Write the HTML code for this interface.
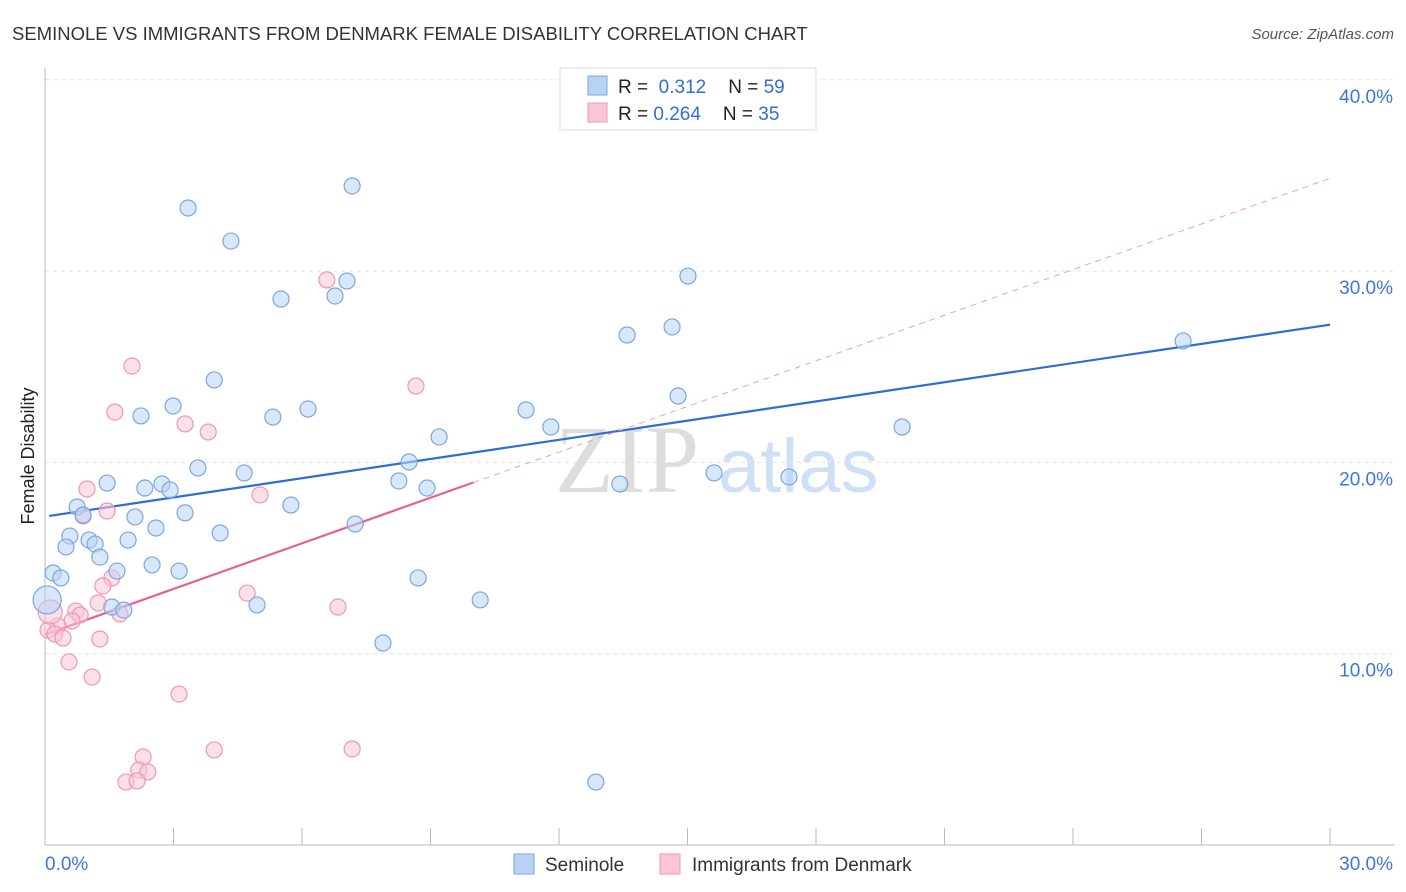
<!DOCTYPE html>
<html><head><meta charset="utf-8">
<style>
body{margin:0;background:#fff;font-family:"Liberation Sans",sans-serif;}
#wrap{position:relative;width:1406px;height:892px;overflow:hidden;}
</style></head>
<body>
<div id="wrap">
<svg id="chart" width="1406" height="892" xmlns="http://www.w3.org/2000/svg">
<text x="12" y="40" font-size="18.5" fill="#333">SEMINOLE VS IMMIGRANTS FROM DENMARK FEMALE DISABILITY CORRELATION CHART</text>
<text x="1394" y="39" font-size="15" fill="#555" font-style="italic" text-anchor="end">Source: ZipAtlas.com</text>
<text x="555" y="492" font-size="96" fill="#ddd" font-family="Liberation Serif,serif">ZIP</text>
<text x="718" y="492" font-size="76" fill="#cfe0f4">atlas</text>
<g id="grid"></g>
<g id="axes"></g>
<g id="lines"></g>
<g id="pts"></g>
<text transform="translate(34,456) rotate(-90)" font-size="18" fill="#222" text-anchor="middle">Female Disability</text>
<g>
<rect x="560" y="68" width="256" height="62" fill="#fff" stroke="#ddd"/>
<rect x="588" y="76" width="19" height="19" fill="#b8d3f5" stroke="#7aa7e0"/>
<rect x="588" y="103" width="19" height="19" fill="#f9c6d6" stroke="#ef96b4"/>
<text x="618" y="93" font-size="19" fill="#222">R = <tspan fill="#2f6fd6">&#160;0.312</tspan><tspan dx="22">N = </tspan><tspan fill="#2f6fd6">59</tspan></text>
<text x="618" y="120" font-size="19" fill="#222">R = <tspan fill="#2f6fd6">0.264</tspan><tspan dx="22">N = </tspan><tspan fill="#2f6fd6">35</tspan></text>
</g>
<g>
<rect x="514" y="854" width="20" height="20" fill="#b8d3f5" stroke="#7aa7e0"/>
<text x="545" y="871" font-size="19" fill="#333">Seminole</text>
<rect x="660" y="854" width="20" height="20" fill="#f9c6d6" stroke="#ef96b4"/>
<text x="692" y="871" font-size="19" fill="#333">Immigrants from Denmark</text>
</g>
</svg>
</div>
<script>
const blueX=[7.17,3.34,4.34,5.51,6.77,7.05,15.01,13.59,14.64,26.57,3.95,2.99,2.24,5.32,6.14,11.23,14.78,11.81,9.20,20.01,3.57,4.65,8.50,1.45,2.33,2.73,2.92,8.26,8.92,13.42,15.62,17.37,0.75,0.89,5.74,3.27,2.10,2.59,7.24,4.09,0.58,1.03,1.94,1.17,0.49,1.28,2.50,3.13,1.68,0.19,0.37,8.71,1.56,1.84,4.95,10.16,7.89,12.86,0.05];
const blueY=[34.45,33.30,31.57,28.54,28.70,29.48,29.74,26.66,27.08,26.35,24.31,22.95,22.43,22.37,22.79,22.74,23.47,21.85,21.33,21.85,19.71,19.45,20.02,18.92,18.66,18.87,18.56,19.03,18.66,18.87,19.45,19.24,17.67,17.25,17.77,17.36,17.15,16.57,16.78,16.31,16.15,15.94,15.94,15.73,15.58,15.05,14.64,14.32,14.32,14.22,13.96,13.96,12.44,12.28,12.55,12.81,10.56,3.29,12.81];
const pinkX=[6.58,2.03,8.66,1.63,3.27,3.81,0.98,5.02,1.45,0.89,1.56,1.35,4.72,1.24,6.84,0.72,0.82,1.75,0.63,0.30,0.07,0.23,0.42,1.28,0.56,1.10,3.13,3.95,7.17,2.29,2.19,2.40,1.89,2.15,0.12];
const pinkY=[29.54,25.04,23.99,22.63,22.01,21.59,18.61,18.30,17.46,17.20,13.96,13.54,13.17,12.65,12.44,12.23,12.02,12.08,11.71,11.45,11.24,11.03,10.82,10.77,9.57,8.78,7.89,4.97,5.02,4.60,3.92,3.82,3.29,3.35,12.18];
const blueTrend=[17.2,27.2];
const pinkTrend=[11.0,34.85];
const yTicks=[10,20,30,40];
const yTickLabels=["10.0%","20.0%","30.0%","40.0%"];
const xTickVals=[0,3,6,9,12,15,18,21,24,27,30];

const NS="http://www.w3.org/2000/svg";
const X=v=>45+v/30*1285, Y=v=>845-v*19.13;
function mk(t,a,p){const e=document.createElementNS(NS,t);for(const k in a)e.setAttribute(k,a[k]);p.appendChild(e);return e;}
const grid=document.getElementById('grid'),axes=document.getElementById('axes'),lines=document.getElementById('lines'),pts=document.getElementById('pts');
yTicks.forEach((v,i)=>{
 const l=mk('line',{x1:45,x2:1395,y1:Y(v),y2:Y(v),stroke:'#e3e3e3','stroke-dasharray':'4,4'},grid);
 
 
 const t=mk('text',{x:1393,y:Y(v)+23,'font-size':19,fill:'#3b78d8','text-anchor':'end'},axes);
 t.textContent=yTickLabels[i];
 
 
});
mk('line',{x1:45,x2:45,y1:68,y2:845,stroke:'#bbb'},axes);
mk('line',{x1:45,x2:1395,y1:845,y2:845,stroke:'#bbb'},axes);
xTickVals.forEach(v=>{
 const l=mk('line',{x1:X(v),x2:X(v),y1:828,y2:845,stroke:'#bbb'},axes);
 
 
});
const x0=mk('text',{x:45,y:870,'font-size':19,fill:'#3b78d8'},axes);x0.textContent='0.0%';


const x1=mk('text',{x:1393,y:870,'font-size':19,fill:'#3b78d8','text-anchor':'end'},axes);x1.textContent='30.0%';



function dot(x,y,r,fill,stroke,name){
 const c=mk('circle',{cx:X(x),cy:Y(y),r:r,fill:fill,'fill-opacity':0.55,stroke:stroke,'stroke-width':1.2},pts);
 
 
}
pinkX.forEach((x,i)=>dot(x,pinkY[i],i===pinkX.length-1?12:8,'#f9c6d6','#ef96b4','denmark-point'));
blueX.forEach((x,i)=>dot(x,blueY[i],i===blueX.length-1?14:8,'#b8d3f5','#7aa7e0','seminole-point'));

const bl=mk('line',{x1:X(0.1),y1:Y(blueTrend[0]),x2:X(30),y2:Y(blueTrend[1]),stroke:'#2a6fd6','stroke-width':2.2},lines);


const py=x=>pinkTrend[0]+(pinkTrend[1]-pinkTrend[0])*x/30;
const pl=mk('line',{x1:X(0),y1:Y(py(0)),x2:X(10),y2:Y(py(10)),stroke:'#e8608e','stroke-width':2.2},lines);


const pd=mk('line',{x1:X(10),y1:Y(py(10)),x2:X(30),y2:Y(py(30)),stroke:'#eaa0b8','stroke-width':1,'stroke-dasharray':'6,5'},lines);


</script>
</body></html>
